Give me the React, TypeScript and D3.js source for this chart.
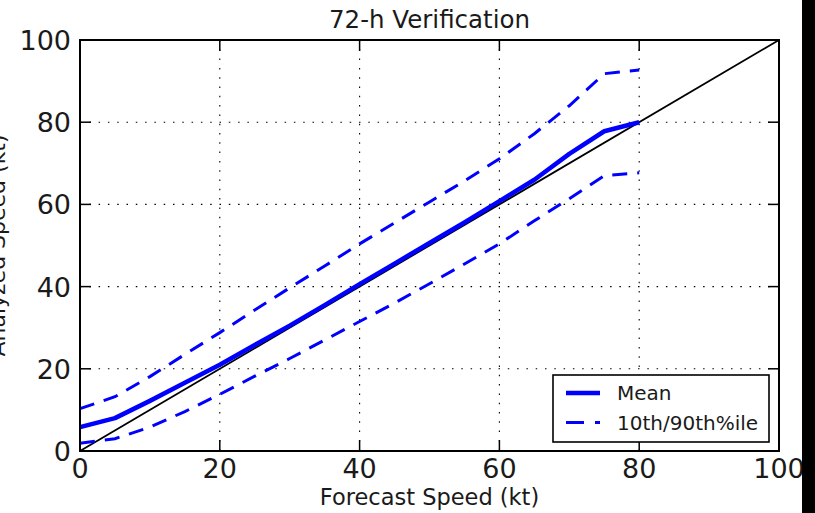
import React from "react";
import * as d3 from "d3";

const forecastSpeed = [0, 5, 10, 15, 20, 25, 30, 35, 40, 45, 50, 55, 60, 65, 70, 75, 80];
const meanSpeed = [5.8, 8.0, 12.2, 16.6, 21, 25.8, 30.5, 35.5, 40.6, 45.6, 50.6, 55.6, 60.8, 66, 72.3, 77.8, 80];
const p90Speed = [10.3, 13.2, 18.1, 23.5, 28.8, 34.3, 39.7, 45, 50.4, 55.5, 60.6, 65.7, 71.1, 77.2, 84, 91.8, 92.7];
const p10Speed = [1.9, 3.0, 5.8, 9.6, 13.8, 18.2, 22.5, 27, 31.5, 36, 40.7, 45.5, 50.4, 56, 61.4, 67, 67.7];
const xTicks = [0, 20, 40, 60, 80, 100];
const yTicks = [0, 20, 40, 60, 80, 100];
const gridTicks = [20, 40, 60, 80];
const legendLabels = ["Mean", "10th/90th%ile"];

const W = 815;
const H = 513;
const L = 80, R = 779, T = 40, B = 451;
const FONT = "'DejaVu Sans', sans-serif";

export default function App() {
  const x = d3.scaleLinear().domain([0, 100]).range([L, R]);
  const y = d3.scaleLinear().domain([0, 100]).range([B, T]);
  const line = d3
    .line<number>()
    .x((_, i) => x(forecastSpeed[i]))
    .y((d) => y(d));

  const lx = 553, ly = 375, lw = 216, lh = 67;

  return (
    <svg
      width={W}
      height={H}
      style={{ position: "absolute", left: 0, top: 0, background: "#fff" }}
      fontFamily={FONT}
    >
      <rect x={0} y={0} width={W} height={H} fill="#fff" />
      {/* grid */}
      {gridTicks.map((t) => (
        <g key={"g" + t}>
          <line x1={x(t)} x2={x(t)} y1={T} y2={B} stroke="#000" strokeWidth={1.1} strokeDasharray="1.5,7.8" />
          <line x1={L} x2={R} y1={y(t)} y2={y(t)} stroke="#000" strokeWidth={1.1} strokeDasharray="1.5,7.8" />
        </g>
      ))}
      {/* diagonal */}
      <line x1={x(0)} y1={y(0)} x2={x(100)} y2={y(100)} stroke="#000" strokeWidth={1.8} />
      {/* percentiles */}
      <path d={line(p90Speed) || ""} fill="none" stroke="#0000ff" strokeWidth={3} strokeDasharray="15,10" />
      <path d={line(p10Speed) || ""} fill="none" stroke="#0000ff" strokeWidth={3} strokeDasharray="15,10" />
      {/* mean */}
      <path d={line(meanSpeed) || ""} fill="none" stroke="#0000ff" strokeWidth={4.5} strokeLinejoin="round" />
      {/* ticks */}
      {xTicks.map((t) => (
        <g key={"xt" + t}>
          <line x1={x(t)} x2={x(t)} y1={B} y2={B - 11} stroke="#000" strokeWidth={1.5} />
          <line x1={x(t)} x2={x(t)} y1={T} y2={T + 11} stroke="#000" strokeWidth={1.5} />
          <text x={x(t)} y={478} textAnchor="middle" fontSize={27} fill="#1a1a1a">
            {t}
          </text>
        </g>
      ))}
      {yTicks.map((t) => (
        <g key={"yt" + t}>
          <line x1={L} x2={L + 11} y1={y(t)} y2={y(t)} stroke="#000" strokeWidth={1.5} />
          <line x1={R} x2={R - 11} y1={y(t)} y2={y(t)} stroke="#000" strokeWidth={1.5} />
          <text x={71} y={y(t) + 10} textAnchor="end" fontSize={27} fill="#1a1a1a">
            {t}
          </text>
        </g>
      ))}
      {/* frame */}
      <rect x={L} y={T} width={R - L} height={B - T} fill="none" stroke="#000" strokeWidth={2} />
      {/* legend */}
      <rect x={lx} y={ly} width={lw} height={lh} fill="#fff" stroke="#000" strokeWidth={1.6} />
      <line x1={566} x2={600} y1={393} y2={393} stroke="#0000ff" strokeWidth={4.5} />
      <line x1={566} x2={600} y1={422.5} y2={422.5} stroke="#0000ff" strokeWidth={3} strokeDasharray="18,11" />
      <text x={617} y={400} fontSize={20} fill="#1a1a1a">
        {legendLabels[0]}
      </text>
      <text x={617} y={430} fontSize={20} fill="#1a1a1a">
        {legendLabels[1]}
      </text>
      {/* labels */}
      <text x={(L + R) / 2} y={28} textAnchor="middle" fontSize={24.5} fill="#1a1a1a">
        72-h Verification
      </text>
      <text x={(L + R) / 2} y={505} textAnchor="middle" fontSize={22.5} fill="#1a1a1a">
        Forecast Speed (kt)
      </text>
      <text
        transform={`translate(5,${(T + B) / 2}) rotate(-90)`}
        textAnchor="middle"
        fontSize={22}
        fill="#1a1a1a"
      >
        Analyzed Speed (kt)
      </text>
      {/* dark strip at right edge */}
      <rect x={802} y={0} width={13} height={H} fill="#000" />
    </svg>
  );
}
